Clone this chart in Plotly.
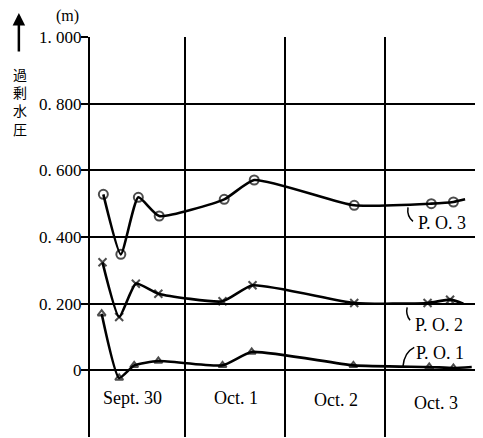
import plotly.graph_objects as go

# Hours since Sept.30 00:00
hours_po3 = [4.4, 8.6, 12.8, 17.8, 33.4, 40.6, 64.6, 83.1, 88.4, 91.2]
po3 = [0.528, 0.348, 0.519, 0.463, 0.513, 0.571, 0.495, 0.500, 0.505, 0.513]

hours_po2 = [4.2, 8.2, 12.2, 17.6, 33.0, 40.2, 64.6, 82.2, 87.6, 90.8]
po2 = [0.324, 0.160, 0.260, 0.230, 0.207, 0.255, 0.202, 0.202, 0.212, 0.200]

hours_po1 = [4.0, 8.2, 11.8, 17.6, 33.0, 40.0, 64.4, 82.6, 88.4, 92.8]
po1 = [0.170, -0.023, 0.015, 0.028, 0.015, 0.055, 0.015, 0.010, 0.007, 0.010]

day_labels = ["Sept. 30", "Oct. 1", "Oct. 2", "Oct. 3"]
day_centers = [11.5, 36.2, 60.2, 84.2]
day_label_y = [-0.084, -0.084, -0.09, -0.099]
day_bounds = [24, 48, 72]

y_ticks = [0, 0.2, 0.4, 0.6, 0.8, 1.0]
y_ticktext = ["0", "0. 200", "0. 400", "0. 600", "0. 800", "1. 000"]

serif = "Liberation Serif"

fig = go.Figure()

def add_series(x, y, symbol, msize):
    sizes = [msize] * (len(x) - 1) + [0]
    fig.add_trace(go.Scatter(
        x=x, y=y, mode="lines+markers",
        line=dict(color="black", width=2.6, shape="spline", smoothing=0.5),
        marker=dict(symbol=symbol, size=sizes, color="black",
                    line=dict(color="black", width=2)),
        showlegend=False, hoverinfo="skip"))

add_series(hours_po3, po3, "circle-open", 9)
add_series(hours_po2, po2, "x-thin-open", 8)
add_series(hours_po1, po1, "triangle-up-open", 7)

# series labels with leader strokes
labels = [("P. O. 3", 79.4, 0.441, (77.5, 0.489), (77.2, 0.462), (78.7, 0.447)),
          ("P. O. 2", 78.7, 0.135, (77.3, 0.189), (76.9, 0.168), (78.0, 0.150)),
          ("P. O. 1", 79.0, 0.051, (76.3, 0.012), (76.6, 0.054), (79.0, 0.069))]
for txt, lx, ly, p0, pc, p1 in labels:
    fig.add_annotation(x=lx, y=ly, text=txt, showarrow=False, xanchor="left",
                       yanchor="middle", font=dict(family=serif, size=18, color="black"))
    fig.add_shape(type="path", xref="x", yref="y",
                  path=f"M {p0[0]} {p0[1]} Q {pc[0]} {pc[1]} {p1[0]} {p1[1]}",
                  line=dict(color="black", width=1.5))

for t, cx, cy in zip(day_labels, day_centers, day_label_y):
    fig.add_annotation(x=cx, y=cy, text=t, showarrow=False,
                       font=dict(family=serif, size=18, color="black"))

# y-axis title (vertical Japanese) and arrow
fig.add_annotation(xref="paper", yref="paper", x=-0.179, y=0.84,
                   text="過<br>剰<br>水<br>圧", showarrow=False,
                   font=dict(family="Noto Sans CJK JP", size=14, color="black"),
                   align="center", xanchor="center", yanchor="middle")
fig.add_annotation(xref="paper", yref="paper", x=-0.181, y=1.06, text="",
                   showarrow=True, ax=0, ay=40, arrowhead=2, arrowsize=1,
                   arrowwidth=2.5, arrowcolor="black")
fig.add_annotation(xref="paper", yref="paper", x=-0.0585, y=1.052, text="(m)",
                   showarrow=False, xanchor="center", yanchor="middle",
                   font=dict(family=serif, size=16, color="black"))

fig.update_layout(
    width=475, height=430,
    margin=dict(l=82, r=0, t=29, b=1),
    paper_bgcolor="white", plot_bgcolor="white",
    xaxis=dict(range=[1.2, 95.5], tickvals=day_bounds, showticklabels=False,
               showgrid=True, gridcolor="black", gridwidth=1.8, ticks="",
               zeroline=False, showline=False, fixedrange=True),
    yaxis=dict(range=[-0.2, 1.0], tickvals=y_ticks, ticktext=y_ticktext,
               showgrid=True, gridcolor="black", gridwidth=2,
               zeroline=True, zerolinecolor="black", zerolinewidth=2,
               showline=True, linecolor="black", linewidth=2,
               ticks="outside", ticklen=7, tickwidth=2, tickcolor="black",
               ticklabelstandoff=-4,
               tickfont=dict(family=serif, size=17, color="black"),
               fixedrange=True),
)

fig.write_html("out.html")
